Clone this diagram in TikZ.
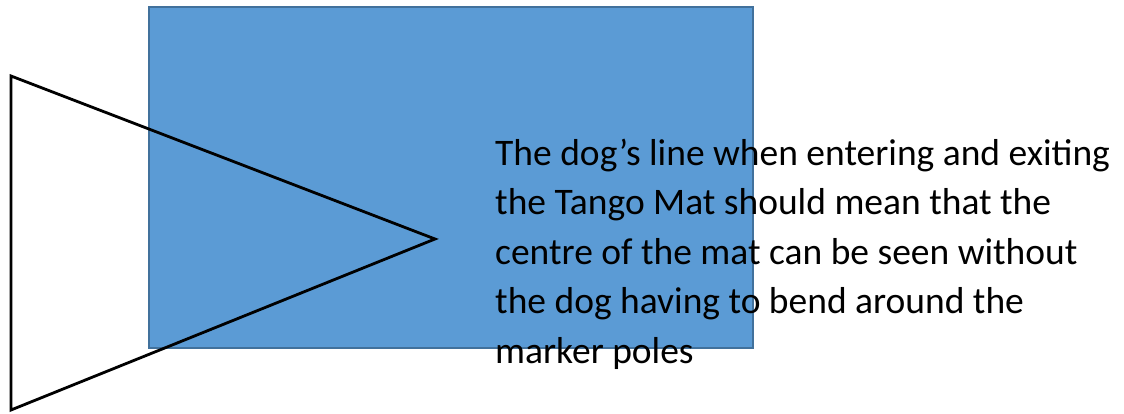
\documentclass[tikz,border=0pt]{standalone}
\usepackage{fontspec}
\setmainfont{Carlito}
\usetikzlibrary{positioning}
\definecolor{matblue}{HTML}{5B9BD5}
\definecolor{matedge}{HTML}{41719C}
\begin{document}
\begin{tikzpicture}[x=1pt, y=-1pt, mat/.style={draw=matedge, fill=matblue, line width=2pt}, wedge/.style={draw=black, line width=2.8pt, line join=miter}, note/.style={align=left, anchor=base west, inner sep=0pt, font=\fontsize{37.5}{49.5}\selectfont}]
\useasboundingbox (0,0) rectangle (1124,414);
\node[mat, minimum width=604pt, minimum height=341pt, inner sep=0pt, anchor=north west] (tangomat) at (148,6) {};
\coordinate (tl) at (11,76);
\coordinate (apex) at (435,239);
\coordinate (bl) at (11,410);
\draw[wedge] (tl) -- (apex) -- (bl) -- cycle;
% base anchor sits on the last line
\node[note] (caption) at (495,363) {The dog’s line when entering and exiting\\the Tango Mat should mean that the\\centre of the mat can be seen without\\the dog having to bend around the\\marker poles};
\end{tikzpicture}
\end{document}
